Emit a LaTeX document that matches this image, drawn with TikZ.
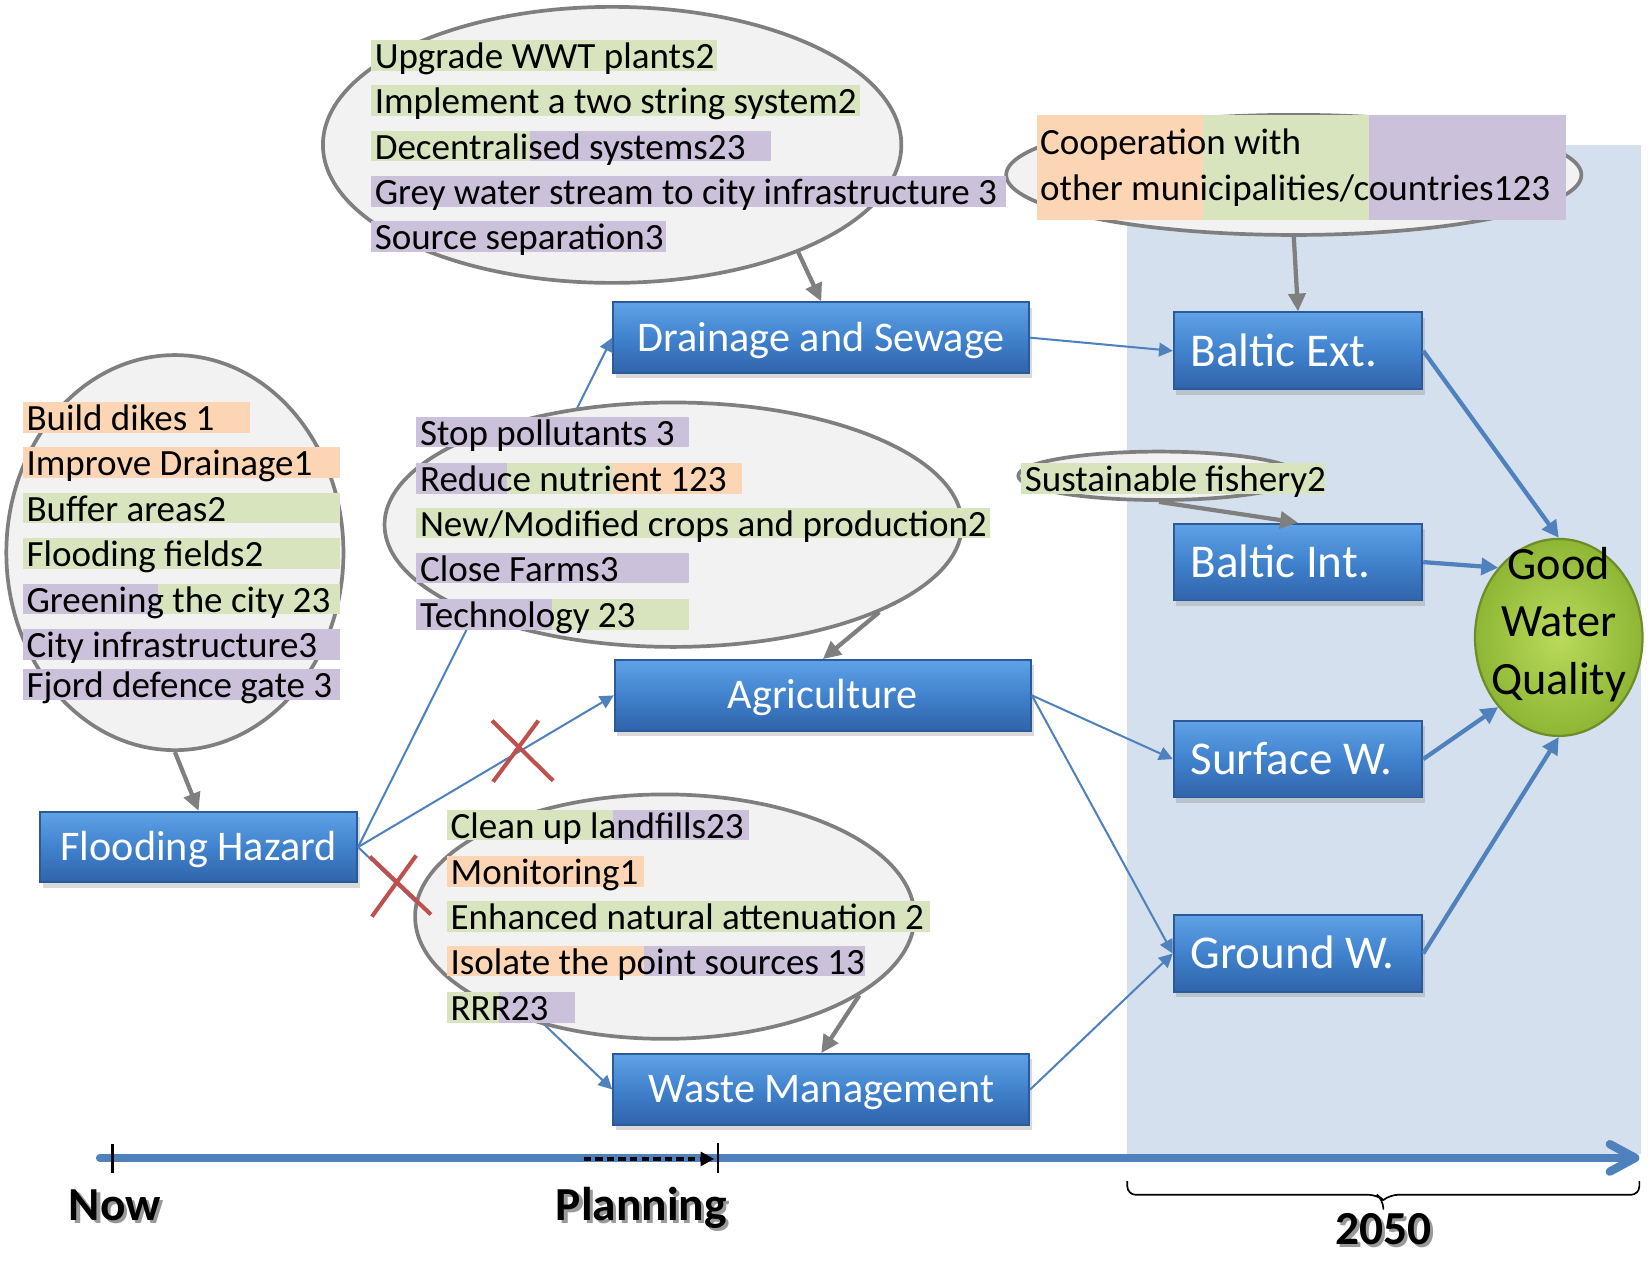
\documentclass[tikz,border=0pt]{standalone}
\usepackage{fontspec}
\setmainfont{Carlito}
\usetikzlibrary{shapes.geometric,arrows.meta,shadows}

\definecolor{hlorange}{RGB}{252,213,181}
\definecolor{hlgreen}{RGB}{215,228,189}
\definecolor{hlpurple}{RGB}{204,193,218}
\definecolor{bubblefill}{RGB}{242,242,242}
\definecolor{bubbleline}{RGB}{127,127,127}
\definecolor{zoneblue}{RGB}{213,224,238}
\definecolor{linkblue}{RGB}{79,129,189}
\definecolor{boxtop}{RGB}{96,162,230}
\definecolor{boxmid}{RGB}{64,130,205}
\definecolor{boxbot}{RGB}{48,100,170}
\definecolor{boxline}{RGB}{44,90,152}
\definecolor{crossred}{RGB}{192,80,77}
\definecolor{gwqin}{RGB}{186,218,92}
\definecolor{gwqout}{RGB}{142,182,52}
\definecolor{gwqline}{RGB}{110,140,40}

\newcommand{\shadowed}[1]{\makebox[0pt][l]{\hspace{0.3mm}\raisebox{-0.3mm}{\textcolor{black!40}{#1}}}#1}

\tikzset{
  bluebox/.style={rectangle, draw=boxline, line width=0.5pt,
    top color=boxtop, bottom color=boxbot, middle color=boxmid,
    text=white, inner sep=0pt, text height=7.3pt, text depth=0pt,
    font=\fontsize{11.4}{13}\selectfont,
    minimum width=39.5mm, minimum height=6.7mm,
    drop shadow={opacity=0.3, shadow xshift=0.25mm, shadow yshift=-0.5mm}},
  rightbox/.style={bluebox, minimum width=23.6mm, minimum height=7.3mm,
    text width=20.4mm, align=flush left, inner xsep=1.6mm, text height=8.2pt,
    font=\fontsize{12.7}{15}\selectfont},
  goal/.style={ellipse, draw=gwqline, line width=0.6pt, inner color=gwqin, outer color=gwqout,
    minimum width=15.9mm, minimum height=18.7mm, inner xsep=-1.5mm, inner ysep=-2.2mm,
    align=center, font=\fontsize{12.5}{15.5}\selectfont},
  bubble/.style={ellipse, draw=bubbleline, fill=bubblefill, line width=1pt, inner sep=0pt},
  hltext/.style={anchor=base west, inner sep=0pt, font=\fontsize{10}{12}\selectfont},
  link/.style={draw=linkblue, line width=0.55pt, -{Triangle[length=1.3mm,width=1.3mm]}},
  biglink/.style={draw=linkblue, line width=1.15pt, -{Triangle[length=1.6mm,width=1.6mm]}},
  feed/.style={draw=bubbleline, line width=1.15pt, -{Triangle[length=1.7mm,width=1.6mm]}},
  crossmark/.style={draw=crossred, line width=1.1pt},
  timeline/.style={draw=linkblue, line width=0.8mm, line cap=round, line join=round},
  planarrow/.style={draw=black, line width=0.9pt, dash pattern=on 0.7mm off 0.4mm,
    -{Triangle[length=1.3mm,width=1.3mm]}},
  tickmark/.style={draw=black, line width=0.7pt},
  timelabel/.style={anchor=base, inner sep=0pt, font=\fontsize{12.8}{15}\selectfont\bfseries}
}

\begin{document}
\begin{tikzpicture}[x=0.1mm, y=-0.1mm]
	\useasboundingbox (0,0) rectangle (1568,1196);
	
	% 2050 zone
	\fill[zoneblue] (1070,138) rectangle (1558,1095);
	
	% sectors and water bodies
	\node[bluebox] (drain) at (779.5,320.5) {Drainage and Sewage};
	\node[bluebox] (agri) at (781,660) {Agriculture};
	\node[bluebox] (waste) at (779.5,1034) {Waste Management};
	\node[bluebox, minimum width=30.1mm] (flood) at (188.5,804) {Flooding Hazard};
	\node[rightbox] (bext) at (1232,333) {Baltic Ext.};
	\node[rightbox] (bint) at (1232,533.5) {Baltic Int.};
	\node[rightbox] (surf) at (1232,720.5) {Surface W.};
	\node[rightbox] (ground) at (1232,905) {Ground W.};
	\node[goal] (gwq) at (1479.5,605) {Good\\Water\\Quality\rule[-3.2mm]{0pt}{0pt}};
	
	\draw[link] (flood.east) -- (drain.west);
	\draw[link] (flood.east) -- (agri.west);
	\draw[link] (flood.east) -- (waste.west);
	\draw[link] (drain.east) -- (bext.west);
	\draw[link] (agri.east) -- (surf.west);
	\draw[link] (agri.east) -- (ground.west);
	\draw[link] (waste.east) -- (ground.west);
	\draw[biglink] (bext.east) -- (gwq.north);
	\draw[biglink] (bint.east) -- (gwq.131);
	\draw[biglink] (surf.east) -- (gwq.229);
	\draw[biglink] (ground.east) -- (gwq.south);
	
	% measure bubbles
	\node[bubble, minimum width=54.9mm, minimum height=26.2mm] (ellDrain) at (581,137.5) {};
	\node[bubble, minimum width=32mm, minimum height=37.5mm] (ellFlood) at (166,524.5) {};
	\node[bubble, minimum width=54.8mm, minimum height=23.2mm] (ellAgri) at (639,498) {};
	\node[bubble, minimum width=47.4mm, minimum height=23.2mm] (ellWaste) at (631,870) {};
	\node[bubble, minimum width=54.6mm, minimum height=11.4mm] (ellCoop) at (1228,166) {};
	\node[bubble, minimum width=26.7mm, minimum height=4.6mm] (ellFish) at (1100,451.6) {};
	
	% highlights: 1 orange, 2 green, 3 purple
	\foreach \xa/\xb/\yc/\col in {
		352/681/52.5/hlgreen, 352/816/95.5/hlgreen, 352/503/138.5/hlgreen, 503/732/138.5/hlpurple,
		352/955/181.5/hlpurple, 352/632/224.5/hlpurple,
		21.5/237/396/hlorange, 21.5/323/439/hlorange, 21.5/323/482/hlgreen, 21.5/323/525.5/hlgreen,
		21.5/150/568.5/hlpurple, 150/323/568.5/hlgreen, 21.5/323/611.5/hlpurple, 21.5/323/649.5/hlpurple,
		395/654/410/hlpurple, 395/481/454/hlpurple, 481/582/454/hlgreen, 582/704/454/hlorange,
		395/940/496.5/hlgreen, 395/654/539/hlpurple, 395/524/583/hlpurple, 524/654/583/hlgreen,
		424/582/783/hlgreen, 582/711/783/hlpurple, 424/611/827/hlorange, 424/883/870/hlgreen,
		424/611.5/912/hlorange, 611.5/821/912/hlpurple, 424/474/956/hlgreen, 474/546/956/hlpurple,
		969/1257.5/454/hlgreen}
		\fill[\col] (\xa,\yc-14.5) rectangle (\xb,\yc+14.5);
	\fill[hlorange] (984,109) rectangle (1142,209);
	\fill[hlgreen] (1142,109) rectangle (1299,209);
	\fill[hlpurple] (1299,109) rectangle (1486,209);
	
	\foreach \yc/\txt [count=\i] in {52.5/Upgrade WWT plants2, 95.5/Implement a two string system2,
		138.5/Decentralised systems23, 181.5/Grey water stream to city infrastructure 3,
		224.5/Source separation3}
		\node[hltext] (dr\i) at (355,\yc+12.5) {\txt};
	\foreach \yc/\txt [count=\i] in {396/Build dikes 1, 439/Improve Drainage1, 482/Buffer areas2,
		525.5/Flooding fields2, 568.5/Greening the city 23, 611.5/City infrastructure3,
		649.5/Fjord defence gate 3}
		\node[hltext] (fl\i) at (24.5,\yc+12.5) {\txt};
	\foreach \yc/\txt [count=\i] in {410/Stop pollutants 3, 454/Reduce nutrient 123,
		496.5/{New/Modified crops and production2}, 539/Close Farms3, 583/Technology 23}
		\node[hltext] (ag\i) at (398,\yc+12.5) {\txt};
	\foreach \yc/\txt [count=\i] in {783/Clean up landfills23, 827/Monitoring1,
		870/Enhanced natural attenuation 2, 912/Isolate the point sources 13, 956/RRR23}
		\node[hltext] (wa\i) at (427,\yc+12.5) {\txt};
	\node[hltext] (coop1) at (986.5,147) {Cooperation with};
	\node[hltext] (coop2) at (986.5,190) {other municipalities/countries123};
	\node[hltext] (fish) at (972,466.5) {Sustainable fishery2};
	
	\draw[feed] (ellDrain.-30.5) -- (drain.north);
	\draw[feed] (ellAgri.-23) -- (agri.north);
	\draw[feed] (ellWaste.-22) -- (waste.north);
	\draw[feed] (ellFlood.south) -- (flood.north);
	\draw[feed] (ellCoop.south) -- (bext.north);
	\draw[feed] (ellFish.south) -- (bint.north);
	
	% crossed out links
	\draw[crossmark] (467,684) -- (525,741) (511,684) -- (468,742);
	\draw[crossmark] (351,813) -- (409,868) (395,812) -- (353,870);
	
	% time axis
	\draw[timeline] (95,1099) -- (1551,1099);
	\draw[timeline] (1528,1086) -- (1552,1099) -- (1528,1112);
	\draw[tickmark] (107,1086) -- (107,1113);
	\draw[tickmark] (681.6,1085) -- (681.6,1113.5);
	\draw[planarrow] (554,1100) -- (678,1100);
	\draw[line width=0.45pt, rounded corners=0.8mm] (1070,1121) -- (1070,1134) -- (1307,1134)
		-- (1313,1139) -- (1313,1148) (1313,1139) -- (1319,1134) -- (1556,1134) -- (1556,1121);
	\node[timelabel] (now) at (109,1158) {\shadowed{Now}};
	\node[timelabel] (plan) at (608.6,1158) {\shadowed{Planning}};
	\node[timelabel] (year) at (1313,1181) {\shadowed{2050}};
\end{tikzpicture}
\end{document}
